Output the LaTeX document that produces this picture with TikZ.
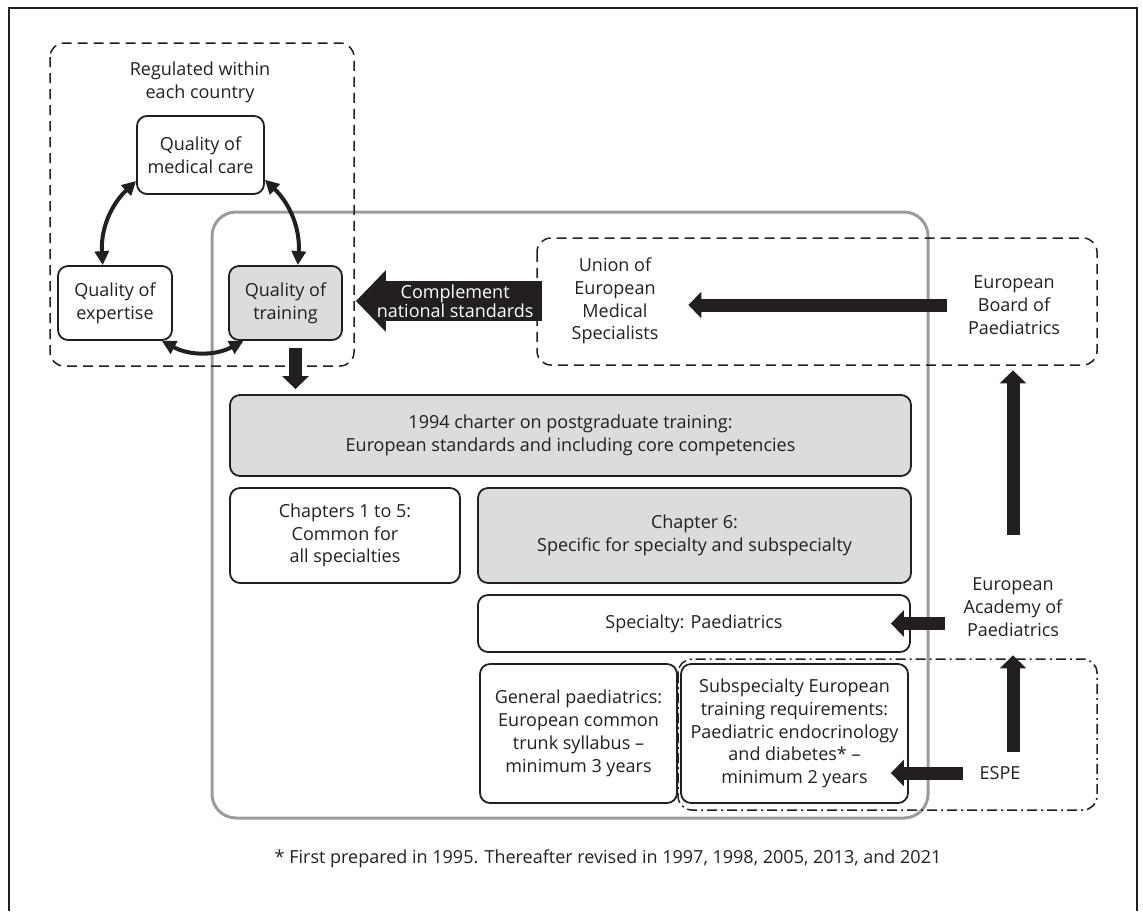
\documentclass[tikz,border=0pt]{standalone}
\usepackage{fontspec}
\setmainfont{Open Sans}
\usetikzlibrary{arrows.meta}
\definecolor{ink}{HTML}{231F20}
\definecolor{boxgrey}{HTML}{DCDCDD}
\definecolor{framegrey}{HTML}{9B9B9B}
\tikzset{
  box/.style={draw=ink, line width=0.9pt, rounded corners=5pt, align=center, inner sep=2pt,
    font=\fontsize{9}{11.4}\selectfont, text=ink},
  greybox/.style={box, fill=boxgrey},
  plaintext/.style={align=center, inner sep=0pt, font=\fontsize{9}{11.4}\selectfont, text=ink},
  dashbox/.style={draw=ink, line width=0.75pt, dash pattern=on 5pt off 3pt, rounded corners=7pt},
  dotbox/.style={draw=ink, line width=0.75pt, dash pattern=on 5pt off 2pt on 1pt off 2pt, rounded corners=7pt},
  twoway/.style={draw=ink, line width=2pt, {Triangle[length=7pt,width=7pt]}-{Triangle[length=7pt,width=7pt]}},
  fatarrow/.style={draw=ink, line width=6.5pt, -{Triangle[length=6.5pt,width=13pt]}},
  bigarrow/.style={draw=ink, line width=20pt, -{Triangle[length=15pt,width=30pt]}},
}
\begin{document}
\begin{tikzpicture}[x=0.5pt,y=-0.5pt]
    \useasboundingbox (0,0) rectangle (1143,911);
    \draw[ink, line width=0.6pt] (9,911) -- (9,8) -- (1137,8) -- (1137,911);

    \draw[framegrey, line width=1.5pt, rounded corners=12pt] (212,212) rectangle (928,818);
    \draw[dashbox] (50,43) rectangle (354,366);
    \draw[dashbox] (537,238) rectangle (1097,365);

    \node[plaintext] (regulated) at (200,82) {Regulated within\\each country};
    \node[box, fill=white, minimum width=63.5pt, minimum height=39pt] (medical) at (200.5,155) {Quality of\\medical care};
    \node[box, fill=white, minimum width=57pt, minimum height=37pt] (expertise) at (115,303) {Quality of\\expertise};
    \node[greybox, minimum width=56.5pt, minimum height=37pt] (training) at (285.5,303) {Quality of\\training};

    \draw[twoway] (expertise.108) to[bend left=25] (medical.202);
    \draw[twoway] (medical.339) to[bend left=25] (training.72);
    \draw[twoway] (training.222) to[bend left=28] (expertise.321);

    \node[plaintext, minimum width=73pt] (union) at (615,301) {Union of\\European\\Medical\\Specialists};
    \node[plaintext, minimum width=67pt, minimum height=65pt] (board) at (1014,305) {European\\Board of\\Paediatrics};
    \node[plaintext, minimum width=68pt, minimum height=48pt] (academy) at (1013,607) {European\\Academy of\\Paediatrics};
    \node[plaintext, minimum width=37pt, minimum height=21pt] (espe) at (1000,773) {ESPE};

    \node[greybox, minimum width=340.5pt, minimum height=40.5pt] (charter) at (570.5,435.5) {1994 charter on postgraduate training:\\European standards and including core competencies};
    \node[box, minimum width=115pt, minimum height=47.5pt] (chapters) at (345,535.5) {Chapters 1 to 5:\\Common for\\all specialties};
    \node[greybox, minimum width=216.5pt, minimum height=47.5pt] (chaptersix) at (694.5,535.5) {Chapter 6:\\Specific for specialty and subspecialty};
    \node[box, minimum width=216pt, minimum height=28.5pt] (specialty) at (694,623.5) {Specialty: Paediatrics};
    \node[box, minimum width=98.5pt, minimum height=69.5pt] (general) at (578.5,733.5) {General paediatrics:\\European common\\trunk syllabus --\\minimum 3 years};
    \node[box, minimum width=113.5pt, minimum height=69.5pt] (sub) at (794.5,733.5) {Subspecialty European\\training requirements:\\Paediatric endocrinology\\and diabetes* --\\minimum 2 years};
    \draw[dotbox] (678,659) rectangle (1097,810);

    \coordinate (drop) at ([xshift=5pt]training.south);
    \draw[fatarrow, shorten <=3.5pt, shorten >=2.5pt] (drop) -- (drop |- charter.north);
    \draw[bigarrow, shorten >=6.5pt] (union.west) -- (union.west -| training.east)
        node[pos=0.435, plaintext, text=white, font=\fontsize{9}{9.6}\selectfont] {Complement\\national standards};
    \draw[fatarrow] (board.west) -- (board.west -| union.east);
    \draw[fatarrow, shorten <=12pt] (academy.north) -- (academy.north |- board.south);
    \draw[fatarrow, shorten >=-10pt] (academy.west |- specialty.east) -- (specialty.east);
    \draw[fatarrow] (espe.north -| academy.south) -- (academy.south);
    \draw[fatarrow, shorten >=-9pt] (espe.west) -- (espe.west -| sub.east);

    \node[plaintext] (note) at (608,859) {* First prepared in 1995. Thereafter revised in 1997, 1998, 2005, 2013, and 2021};
\end{tikzpicture}
\end{document}
